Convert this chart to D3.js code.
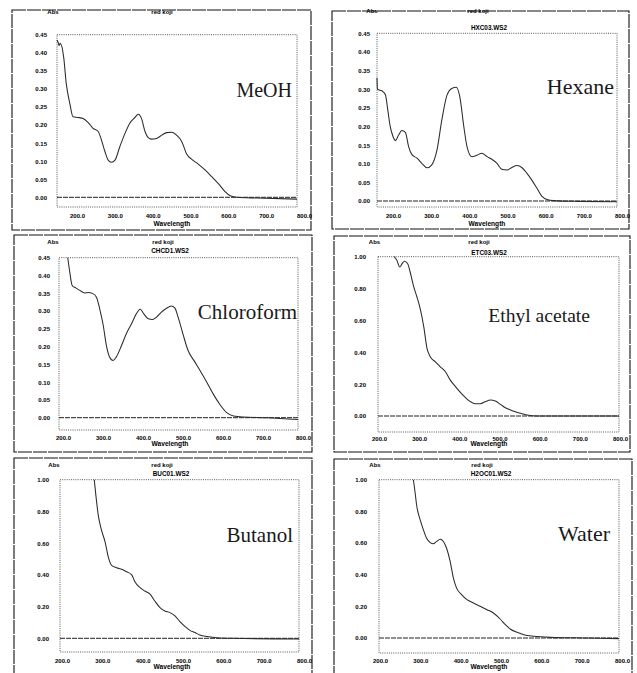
<!DOCTYPE html>
<html><head><meta charset="utf-8">
<script src="https://cdn.jsdelivr.net/npm/d3@7"></script>
<style>body{margin:0;background:#fff}svg{display:block}</style></head>
<body>
<svg id="c" width="637" height="673"></svg>
<script>
// ---------- data ----------
const solvents = ["MeOH", "Hexane", "Chloroform", "Ethyl acetate", "Butanol", "Water"];
const fileNames = ["", "HXC03.WS2", "CHCD1.WS2", "ETC03.WS2", "BUC01.WS2", "H2OC01.WS2"];
const sampleTitle = "red koji";
const yTitle = "Abs";
const xTitle = "Wavelength";
const xTickValues = [200, 300, 400, 500, 600, 700, 800];
const yTicksSmall = [0, 0.05, 0.10, 0.15, 0.20, 0.25, 0.30, 0.35, 0.40, 0.45];
const yTicksLarge = [0, 0.20, 0.40, 0.60, 0.80, 1.00];

const meoh = [[200,0.435],[203,0.428],[205,0.420],[208,0.426],[217,0.385],[223,0.316],[232,0.26],[240,0.223],[253,0.221],[265,0.218],[278,0.207],[290,0.191],[303,0.182],[311,0.159],[320,0.126],[328,0.103],[336,0.097],[345,0.103],[357,0.14],[370,0.177],[382,0.205],[395,0.221],[403,0.23],[411,0.219],[420,0.182],[428,0.165],[436,0.161],[449,0.163],[462,0.172],[474,0.179],[487,0.18],[499,0.172],[512,0.154],[524,0.12],[537,0.105],[553,0.092],[570,0.076],[587,0.057],[604,0.037],[620,0.016],[633,0.004],[650,0.0],[700,-0.002],[800,-0.005]];
const hexane = [[200,0.33],[201,0.30],[205,0.298],[212,0.296],[221,0.285],[227,0.244],[233,0.20],[240,0.173],[246,0.162],[254,0.177],[262,0.189],[271,0.184],[279,0.146],[287,0.125],[300,0.115],[312,0.101],[325,0.089],[337,0.097],[350,0.137],[362,0.217],[375,0.284],[387,0.302],[398,0.305],[407,0.28],[417,0.20],[425,0.146],[437,0.119],[450,0.123],[462,0.128],[475,0.119],[487,0.112],[500,0.101],[512,0.085],[525,0.083],[537,0.09],[550,0.095],[562,0.09],[575,0.074],[587,0.056],[600,0.034],[612,0.013],[625,0.004],[642,0.001],[700,-0.001],[800,-0.002]];
const chloroform = [[222,0.45],[227,0.41],[233,0.372],[242,0.365],[252,0.358],[265,0.351],[273,0.352],[285,0.349],[294,0.339],[302,0.307],[311,0.26],[319,0.203],[327,0.171],[336,0.161],[344,0.171],[357,0.203],[369,0.236],[382,0.264],[394,0.292],[404,0.305],[413,0.292],[424,0.278],[435,0.276],[445,0.283],[457,0.297],[470,0.308],[482,0.314],[491,0.308],[499,0.283],[512,0.232],[524,0.189],[541,0.157],[554,0.133],[571,0.10],[587,0.067],[604,0.037],[621,0.014],[638,0.005],[663,0.002],[722,0.0],[800,-0.005]];
const ethylAcetate = [[240,1.0],[247,0.977],[254,0.935],[260,0.956],[266,0.971],[274,0.956],[280,0.904],[289,0.81],[297,0.747],[305,0.674],[314,0.56],[322,0.424],[330,0.372],[343,0.34],[355,0.309],[368,0.278],[380,0.225],[393,0.184],[405,0.148],[418,0.115],[430,0.09],[442,0.077],[455,0.077],[467,0.09],[480,0.10],[492,0.094],[505,0.073],[517,0.052],[530,0.038],[542,0.027],[555,0.017],[571,0.006],[596,0.0],[800,0.0]];
const butanol = [[286,1.0],[290,0.903],[296,0.777],[304,0.683],[313,0.61],[321,0.515],[329,0.462],[342,0.445],[355,0.435],[367,0.42],[380,0.40],[388,0.357],[401,0.319],[413,0.298],[426,0.279],[438,0.235],[451,0.193],[463,0.172],[476,0.162],[488,0.143],[501,0.105],[514,0.074],[526,0.05],[539,0.036],[551,0.021],[568,0.011],[593,0.004],[635,0.0],[800,-0.004]];
const water = [[286,1.0],[290,0.924],[294,0.84],[303,0.746],[311,0.683],[319,0.63],[328,0.603],[336,0.595],[344,0.61],[353,0.624],[361,0.61],[369,0.567],[378,0.483],[386,0.378],[394,0.315],[407,0.273],[420,0.242],[436,0.221],[453,0.20],[470,0.179],[486,0.158],[503,0.12],[516,0.084],[528,0.057],[545,0.036],[562,0.021],[587,0.011],[629,0.004],[712,0.0],[800,-0.004]];
const seriesList = [meoh, hexane, chloroform, ethylAcetate, butanol, water];
const yMaxList = [0.45, 0.45, 0.45, 1.0, 1.0, 1.0];

// ---------- layout (positions only) ----------
const layout = [
  {bx:12, by:10, bw:299, bh:220, fl:57, fr:297, ft:34.7, fz:197.3, fb:207, labL:77, labR:304, labY:216, yLabR:47, abs:[53,12], koji:[162,12], file:[170,28], wav:[172,224], sx:292, sy:97, fs:20},
  {bx:332, by:11, bw:297, bh:218, fl:377, fr:617, ft:33.3, fz:201, fb:207, labL:393, labR:622, labY:216, yLabR:370, abs:[372,11], koji:[478,11], file:[489,28], wav:[487,224], sx:614, sy:94, fs:22},
  {bx:14, by:235, bw:298, bh:217, fl:59, fr:298, ft:257.7, fz:417.7, fb:430, labL:63, labR:303, labY:438, yLabR:50, abs:[53,242], koji:[163,242], file:[170,251], wav:[170,444], sx:297, sy:319, fs:21},
  {bx:334, by:236, bw:296, bh:216, fl:378, fr:619, ft:256.7, fz:416, fb:432, labL:379, labR:620, labY:438.7, yLabR:366, abs:[374.5,242], koji:[479,242], file:[489,253], wav:[489,444], sx:590, sy:322, fs:19.6},
  {bx:14, by:458, bw:298, bh:225, fl:60, fr:299, ft:479.7, fz:638.3, fb:652, labL:62, labR:304, labY:661, yLabR:49, abs:[54,465], koji:[162,465], file:[171,474], wav:[172,667], sx:293, sy:542, fs:21},
  {bx:334, by:459, bw:298, bh:225, fl:379, fr:619, ft:479.7, fz:638, fb:653, labL:380, labR:622, labY:661, yLabR:367, abs:[375,465], koji:[482,465], file:[491,474], wav:[489,667], sx:610, sy:541, fs:22}
];

const svg = d3.select("#c");
const sans = "'Liberation Sans', Arial, sans-serif";
const serif = "'Liberation Serif', 'Times New Roman', serif";

layout.forEach((L, i) => {
  const g = svg.append("g");
  const x = d3.scaleLinear().domain([200, 800]).range([L.fl, L.fr]);
  const xLab = d3.scaleLinear().domain([200, 800]).range([L.labL, L.labR]);
  const y = d3.scaleLinear().domain([0, yMaxList[i]]).range([L.fz, L.ft]);

  // outer panel border
  g.append("rect").attr("x", L.bx).attr("y", L.by).attr("width", L.bw).attr("height", L.bh)
    .attr("fill", "none").attr("stroke", "#111").attr("stroke-width", 1.1)
    .attr("stroke-dasharray", "14,1");

  // dotted plot frame
  g.append("rect").attr("x", L.fl).attr("y", L.ft).attr("width", L.fr - L.fl).attr("height", L.fb - L.ft)
    .attr("fill", "none").attr("stroke", "#444").attr("stroke-width", 0.9)
    .attr("stroke-dasharray", "1,1.2");

  // zero baseline
  g.append("line").attr("x1", x(200)).attr("x2", x(800)).attr("y1", y(0)).attr("y2", y(0))
    .attr("stroke", "#222").attr("stroke-width", 1).attr("stroke-dasharray", "5,1");

  // y tick labels
  const yAxis = d3.axisLeft(y).tickValues(i < 3 ? yTicksSmall : yTicksLarge)
    .tickFormat(d3.format(".2f")).tickSize(0).tickPadding(0);
  const ya = g.append("g").attr("transform", `translate(${L.yLabR},0)`).call(yAxis);
  ya.select(".domain").remove();
  ya.selectAll("text").attr("font-family", sans).attr("font-weight", "bold")
    .attr("font-size", 6).attr("fill", "#000");

  // x tick labels
  const xAxis = d3.axisBottom(xLab).tickValues(xTickValues).tickFormat(d3.format(".1f"))
    .tickSize(0).tickPadding(0);
  const xa = g.append("g").attr("transform", `translate(0,${L.labY - 3})`).call(xAxis);
  xa.select(".domain").remove();
  xa.selectAll("text").attr("font-family", sans).attr("font-weight", "bold")
    .attr("font-size", 6).attr("fill", "#000").attr("dy", "0.35em").attr("y", 3);

  // titles
  const txt = (p, s, fsz) => g.append("text").attr("x", p[0]).attr("y", p[1]).attr("dy", "0.35em")
    .attr("text-anchor", "middle").attr("font-family", sans).attr("font-weight", "bold")
    .attr("font-size", fsz).attr("fill", "#000").text(s);
  txt(L.abs, yTitle, 6);
  txt(L.koji, sampleTitle, 6);
  if (fileNames[i]) txt(L.file, fileNames[i], 6.4);
  txt(L.wav, xTitle, 6.6);

  // spectrum
  const line = d3.line().x(d => x(d[0])).y(d => y(d[1])).curve(d3.curveMonotoneX);
  g.append("path").datum(seriesList[i]).attr("d", line)
    .attr("fill", "none").attr("stroke", "#2b2b2b").attr("stroke-width", 1.05);

  // solvent label
  g.append("text").attr("x", L.sx).attr("y", L.sy).attr("text-anchor", "end")
    .attr("font-family", serif).attr("font-size", L.fs).attr("fill", "#1a1a1a").text(solvents[i]);
});
</script>
</body></html>
